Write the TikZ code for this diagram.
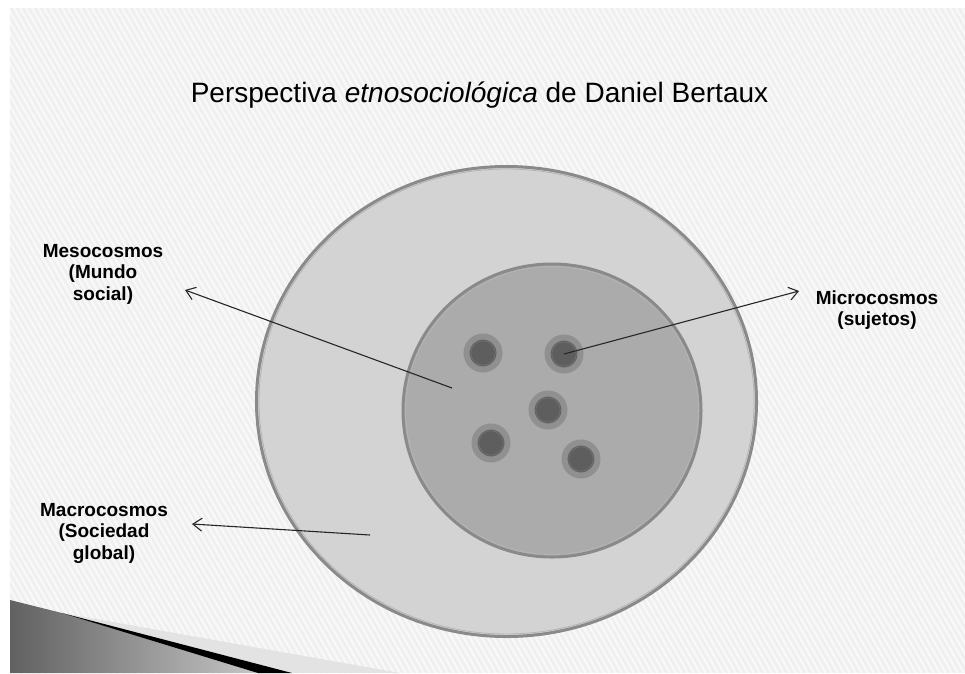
\documentclass[tikz,border=0pt]{standalone}
\usepackage{fontspec}
\setmainfont{Liberation Sans}
\usepackage{tikz}
\usetikzlibrary{arrows.meta,shapes,positioning,calc}

\definecolor{slidebg}{HTML}{EFEFEF}
\definecolor{stripe}{HTML}{F8F8F8}
\definecolor{outerfill}{HTML}{D3D3D3}
\definecolor{innerfill}{HTML}{ABABAB}
\definecolor{ringedge}{HTML}{8A8A8A}
\definecolor{ringhi}{HTML}{B4B4B4}
\definecolor{dothalo}{HTML}{909090}
\definecolor{dotcore}{HTML}{5E5E5E}
\definecolor{dotring}{HTML}{767676}

\begin{document}
\begin{tikzpicture}[x=1pt, y=-1pt,
    heading/.style={font=\fontsize{28}{34}\selectfont, anchor=base},
    cosmos/.style={font=\fontsize{19}{21.5}\selectfont\bfseries, align=center, inner sep=0pt},
    ring/.style={draw=ringedge, line width=3pt},
    dot/.style={circle, draw=dothalo, line width=6pt, fill=dotcore, minimum size=33pt, inner sep=0pt},
    pointer/.style={-{Straight Barb[length=9pt, width=13pt]}, line width=1.1pt, black!85}
]
    \useasboundingbox (0,0) rectangle (965,673);

    % Fondo de la diapositiva
    \begin{scope}
        \clip (10,8) rectangle (965,673);
        \fill[slidebg] (10,8) rectangle (965,673);
        \foreach \i in {-400,-394,...,965} {
            \draw[stripe, line width=2.5pt] (\i,8) -- ++(380,665);
        }
    \end{scope}

    % Cuña inferior
    \fill[gray!22] (62,613) -- (400,673) -- (292,673) -- cycle;
    \shade[left color=black!62, right color=black!22] (10,600) -- (62,613) -- (262,673) -- (10,673) -- cycle;
    \fill[black] (62,613) -- (292,673) -- (258,673) -- cycle;

    % Titulo
    \node[heading] (title) at (479.5,102) {Perspectiva \textit{etnosociológica} de Daniel Bertaux};

    % Macrocosmos y mesocosmos
    \filldraw[ring, fill=outerfill] (506.5,401.5) ellipse [x radius=250pt, y radius=235pt];
    \draw[ringhi, line width=0.8pt] (506.5,401.5) ellipse [x radius=247.5pt, y radius=232.5pt];
    \filldraw[ring, fill=innerfill] (552,410.5) ellipse [x radius=149pt, y radius=146.5pt];
    \draw[ringhi, line width=0.8pt] (552,410.5) ellipse [x radius=146.5pt, y radius=144pt];

    % Sujetos
    \foreach \n/\x/\y in {1/483/353, 2/564/354, 3/548/410, 4/491/443, 5/581/459} {
        \node[dot] (s\n) at (\x,\y) {};
        \draw[dotring, line width=0.6pt] (s\n.center) circle [radius=12.3pt];
    }

    % Etiquetas
    \node[cosmos] (meso) at (103,274) {Mesocosmos\\(Mundo\\social)};
    \node[cosmos] (macro) at (104,533) {Macrocosmos\\(Sociedad\\global)};
    \node[cosmos] (micro) at (877,310) {Microcosmos\\(sujetos)};

    % Flechas
    \coordinate (mesopt) at (452,388);
    \coordinate (mesotip) at (185,290);
    \coordinate (macropt) at (370,535);
    \coordinate (macrotip) at (192,524);
    \coordinate (microtip) at (799,291);
    \draw[pointer] (mesopt) -- (mesotip);
    \draw[pointer] (macropt) -- (macrotip);
    \draw[pointer] (s2.center) -- (microtip);
\end{tikzpicture}
\end{document}
